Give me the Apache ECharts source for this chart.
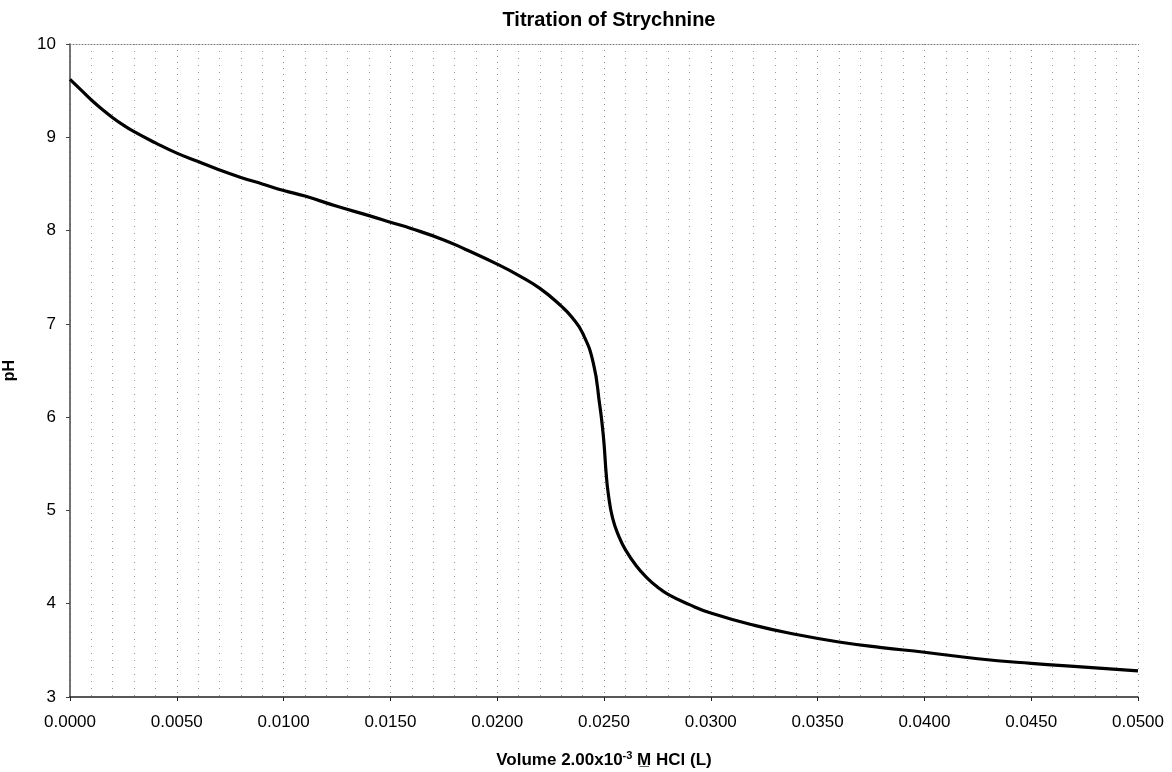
<!DOCTYPE html>
<html>
<head>
<meta charset="utf-8">
<script src="https://cdn.jsdelivr.net/npm/echarts@6/dist/echarts.min.js"></script>
<style>
  html, body { margin: 0; padding: 0; background: #fff; }
  #chart { width: 1172px; height: 772px; }
</style>
</head>
<body>
<div id="chart"></div>
<script>
// volume of HCl added (L)
var volume = [
  0.0000, 0.0005, 0.0010, 0.0015, 0.0020, 0.0025, 0.0030, 0.0040, 0.0050, 0.0060,
  0.0070, 0.0080, 0.0090, 0.0100, 0.0110, 0.0125, 0.0140, 0.0150, 0.0160, 0.0175,
  0.0185, 0.0200, 0.0210, 0.0220, 0.0230, 0.0235, 0.0240, 0.0245, 0.0248, 0.0249,
  0.0250, 0.0251, 0.0252, 0.0254, 0.0257, 0.0260, 0.0265, 0.0270, 0.0275, 0.0280,
  0.0290, 0.0300, 0.0320, 0.0340, 0.0360, 0.0380, 0.0400, 0.0425, 0.0450, 0.0475,
  0.0500
]
// pH
var pH = [
  9.62, 9.51, 9.40, 9.30, 9.21, 9.13, 9.06, 8.94, 8.83, 8.74,
  8.65, 8.57, 8.50, 8.43, 8.37, 8.26, 8.16, 8.09, 8.02, 7.90,
  7.80, 7.64, 7.52, 7.38, 7.19, 7.07, 6.90, 6.58, 6.13, 5.95,
  5.72, 5.40, 5.18, 4.92, 4.72, 4.58, 4.41, 4.28, 4.18, 4.10,
  3.99, 3.90, 3.77, 3.67, 3.59, 3.53, 3.48, 3.41, 3.36, 3.32,
  3.28
]

var points = volume.map(function (v, i) { return [v, pH[i]] })

var chart = echarts.init(document.getElementById('chart'))
var font = 'Liberation Sans, Arial, sans-serif'

var option = {
  backgroundColor: '#fff',
  animation: false,
  title: {
    text: 'Titration of Strychnine',
    left: 604,
    textAlign: 'center',
    top: 5,
    textStyle: { fontFamily: font, fontSize: 20, fontWeight: 'bold', color: '#000' }
  },
  grid: { left: 70, right: 34, top: 44, bottom: 75, outerBoundsMode: 'none', containLabel: false },
  xAxis: [
    {
      type: 'value',
      min: 0,
      max: 0.05,
      interval: 0.005,
      name: 'Volume 2.00x10{sup|-3} M\u0332 HCl (L)',
      nameLocation: 'middle',
      nameGap: 53,
      nameTextStyle: {
        fontFamily: font, fontSize: 17, fontWeight: 'bold', color: '#000',
        rich: {
          sup: { fontFamily: font, fontSize: 11, fontWeight: 'bold', color: '#000', padding: [0, 0, 9, 0] }
        }
      },
      axisLine: { lineStyle: { color: '#222', width: 1.5 } },
      axisTick: { show: true, inside: false, length: 4, lineStyle: { color: '#222' } },
      axisLabel: {
        fontFamily: font, fontSize: 17, color: '#000', margin: 17,
        formatter: function (v) { return v.toFixed(4) }
      },
      splitLine: { show: true, lineStyle: { color: '#888', type: [1, 5] } },
      minorTick: { show: false, splitNumber: 5 },
      minorSplitLine: { show: true, lineStyle: { color: '#999', type: [1, 6] } }
    },
    {
      type: 'value',
      position: 'top',
      min: 0,
      max: 0.05,
      axisLine: { show: true, lineStyle: { color: '#777', type: [1, 2] } },
      axisTick: { show: false },
      axisLabel: { show: false },
      splitLine: { show: false }
    }
  ],
  yAxis: [
    {
      type: 'value',
      min: 3,
      max: 10,
      interval: 1,
      name: 'pH',
      nameLocation: 'middle',
      nameGap: 52,
      nameRotate: 90,
      nameTextStyle: { fontFamily: font, fontSize: 16, fontWeight: 'bold', color: '#000' },
      axisLine: { show: true, lineStyle: { color: '#444', width: 1.5 } },
      axisTick: { show: true, length: 4, lineStyle: { color: '#444' } },
      axisLabel: { fontFamily: font, fontSize: 17, color: '#000', margin: 14 },
      splitLine: { show: false }
    },
    {
      type: 'value',
      position: 'right',
      min: 3,
      max: 10,
      axisLine: { show: true, lineStyle: { color: '#777', type: [1, 2] } },
      axisTick: { show: false },
      axisLabel: { show: false },
      splitLine: { show: false }
    }
  ],
  series: [
    {
      name: 'pH',
      type: 'line',
      data: points,
      smooth: 0.5,
      symbol: 'none',
      lineStyle: { color: '#000', width: 3.2 }
    }
  ]
}

chart.setOption(option)
</script>
</body>
</html>
